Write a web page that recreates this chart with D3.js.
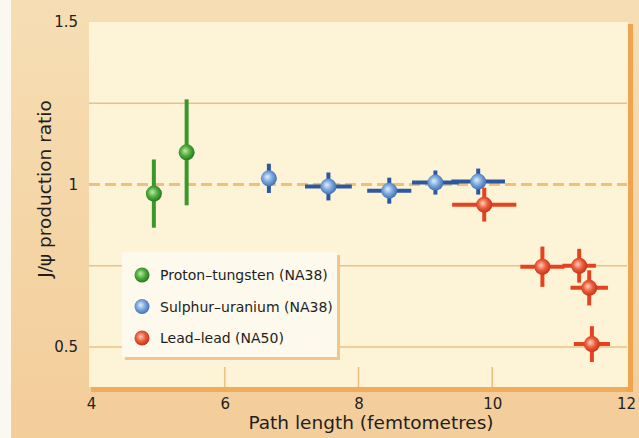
<!DOCTYPE html>
<html><head><meta charset="utf-8">
<script src="https://cdn.jsdelivr.net/npm/d3@7"></script>
<style>html,body{margin:0;padding:0;background:#fff}svg{display:block}</style>
</head><body>
<svg id="c" width="639" height="438"></svg>
<script>
// ---- data ----
const seriesNames = ["Proton\u2013tungsten (NA38)", "Sulphur\u2013uranium (NA38)", "Lead\u2013lead (NA50)"];
const ptX = [4.94, 5.43];
const ptY = [0.972, 1.099];
const ptErrX = [0, 0];
const ptErrY = [0.105, 0.163];
const suX = [6.66, 7.55, 8.46, 9.15, 9.79];
const suY = [1.019, 0.994, 0.981, 1.006, 1.009];
const suErrX = [0, 0.35, 0.33, 0.35, 0.40];
const suErrY = [0.045, 0.043, 0.040, 0.037, 0.040];
const pbX = [9.88, 10.75, 11.30, 11.45, 11.49];
const pbY = [0.938, 0.747, 0.750, 0.682, 0.509];
const pbErrX = [0.48, 0.33, 0.25, 0.28, 0.27];
const pbErrY = [0.052, 0.062, 0.052, 0.054, 0.055];
const xTicks = [4, 6, 8, 10, 12];
const yTicks = [0.5, 1, 1.5];
const yGrid = [0.5, 0.75, 1.25];
const xInnerTicks = [6, 8, 10];
const xTitle = "Path length (femtometres)";
const yTitle = "J/\u03c8 production ratio";

// ---- layout ----
const svg = d3.select("#c");
const x = d3.scaleLinear().domain([4, 12]).range([91, 626]);
const y = d3.scaleLinear().domain([0.5, 1.5]).range([347, 22]);
const plotL = 89, plotR = 628, plotT = 22, plotB = 387;
const font = "'DejaVu Sans', Verdana, sans-serif";

const defs = svg.append("defs");
const bg = defs.append("linearGradient").attr("id", "bg").attr("x1", 0).attr("y1", 0).attr("x2", 0).attr("y2", 1);
bg.append("stop").attr("offset", 0).attr("stop-color", "#f6deb4");
bg.append("stop").attr("offset", 1).attr("stop-color", "#f3cd9a");
const cols = {
  green: {bar: "#3a982b", hi: "#bfeaa8", mid: "#4fae3c", lo: "#1f6e17"},
  blue: {bar: "#2c58a2", hi: "#e2eefb", mid: "#79a7dc", lo: "#3a68ad"},
  red: {bar: "#e3431e", hi: "#fcd0c2", mid: "#ec5d3c", lo: "#c02c12"}
};
Object.entries(cols).forEach(([k, c]) => {
  const g = defs.append("radialGradient").attr("id", "ball-" + k).attr("cx", "45%").attr("cy", "45%").attr("r", "60%").attr("fx", "40%").attr("fy", "40%");
  g.append("stop").attr("offset", 0).attr("stop-color", c.hi);
  g.append("stop").attr("offset", 0.5).attr("stop-color", c.mid);
  g.append("stop").attr("offset", 1).attr("stop-color", c.lo);
});

svg.append("rect").attr("width", 639).attr("height", 438).attr("fill", "url(#bg)");
svg.append("rect").attr("width", 11).attr("height", 438).attr("fill", "#fbf8f2");

// plot frame shadow bands
svg.append("rect").attr("x", plotL + 2).attr("y", plotB - 1).attr("width", plotR - plotL + 3).attr("height", 6).attr("fill", "#f0ac58");
svg.append("rect").attr("x", plotR - 1).attr("y", plotT + 2).attr("width", 6).attr("height", plotB - plotT + 3).attr("fill", "#efa550");
svg.append("rect").attr("x", plotL).attr("y", plotT).attr("width", plotR - plotL).attr("height", plotB - plotT).attr("fill", "#fdf4d8");

// gridlines
svg.append("g").selectAll("line").data(yGrid).join("line")
  .attr("x1", plotL).attr("x2", plotR - 1).attr("y1", d => y(d)).attr("y2", d => y(d))
  .attr("stroke", "#ecc284").attr("stroke-width", 1.6);
svg.append("line").attr("x1", plotL).attr("x2", plotR - 1).attr("y1", y(1)).attr("y2", y(1))
  .attr("stroke", "#f1be7c").attr("stroke-width", 3).attr("stroke-dasharray", "11,5");
svg.append("g").selectAll("line").data(xInnerTicks).join("line")
  .attr("x1", d => x(d)).attr("x2", d => x(d)).attr("y1", plotB).attr("y2", plotB - 20)
  .attr("stroke", "#ecc284").attr("stroke-width", 1.6);

// axes
const ax = svg.append("g").attr("transform", `translate(0,${plotB + 2})`)
  .call(d3.axisBottom(x).tickValues(xTicks).tickSize(0).tickPadding(9).tickFormat(d3.format("d")));
const ay = svg.append("g").attr("transform", `translate(${plotL},0)`)
  .call(d3.axisLeft(y).tickValues(yTicks).tickSize(0).tickPadding(11).tickFormat(d => d === 1 ? "1" : d3.format(".1f")(d)));
[ax, ay].forEach(a => {
  a.select(".domain").remove();
  a.selectAll("text").attr("font-family", font).attr("font-size", 15).attr("fill", "#222");
});

// titles
svg.append("text").attr("x", 371).attr("y", 429).attr("text-anchor", "middle")
  .attr("font-family", font).attr("font-size", 18.5).attr("fill", "#1e1e1e").text(xTitle);
svg.append("text").attr("transform", "translate(51,189) rotate(-90)").attr("text-anchor", "middle")
  .attr("font-family", font).attr("font-size", 18.5).attr("fill", "#1e1e1e").text(yTitle);

// legend
const lgX = 122, lgY = 252, lgW = 215, lgH = 105;
svg.append("rect").attr("x", lgX + 3).attr("y", lgY + 3).attr("width", lgW).attr("height", lgH).attr("fill", "#efc68c");
svg.append("rect").attr("x", lgX).attr("y", lgY).attr("width", lgW).attr("height", lgH).attr("fill", "#fdf9ec");
const lgKeys = ["green", "blue", "red"];
const lg = svg.append("g").selectAll("g").data(seriesNames).join("g")
  .attr("transform", (d, i) => `translate(${lgX + 20},${lgY + 23 + i * 31.5})`);
lg.append("circle").attr("r", 7.5).attr("fill", (d, i) => `url(#ball-${lgKeys[i]})`);
lg.append("text").attr("x", 18).attr("dy", "0.36em").attr("font-family", font).attr("font-size", 14)
  .attr("fill", "#1e1e1e").text(d => d);

// series
function drawSeries(xs, ys, ex, ey, key) {
  const c = cols[key];
  const data = xs.map((v, i) => ({x: v, y: ys[i], ex: ex[i], ey: ey[i]}));
  const g = svg.append("g");
  g.selectAll(".h").data(data.filter(d => d.ex > 0)).join("line")
    .attr("x1", d => x(d.x - d.ex)).attr("x2", d => x(d.x + d.ex))
    .attr("y1", d => y(d.y)).attr("y2", d => y(d.y))
    .attr("stroke", c.bar).attr("stroke-width", 4);
  g.selectAll(".v").data(data).join("line")
    .attr("x1", d => x(d.x)).attr("x2", d => x(d.x))
    .attr("y1", d => y(d.y + d.ey)).attr("y2", d => y(d.y - d.ey))
    .attr("stroke", c.bar).attr("stroke-width", 4);
  g.selectAll("circle").data(data).join("circle")
    .attr("cx", d => x(d.x)).attr("cy", d => y(d.y)).attr("r", 8)
    .attr("fill", `url(#ball-${key})`);
}
drawSeries(ptX, ptY, ptErrX, ptErrY, "green");
drawSeries(suX, suY, suErrX, suErrY, "blue");
drawSeries(pbX, pbY, pbErrX, pbErrY, "red");
</script>
</body></html>
